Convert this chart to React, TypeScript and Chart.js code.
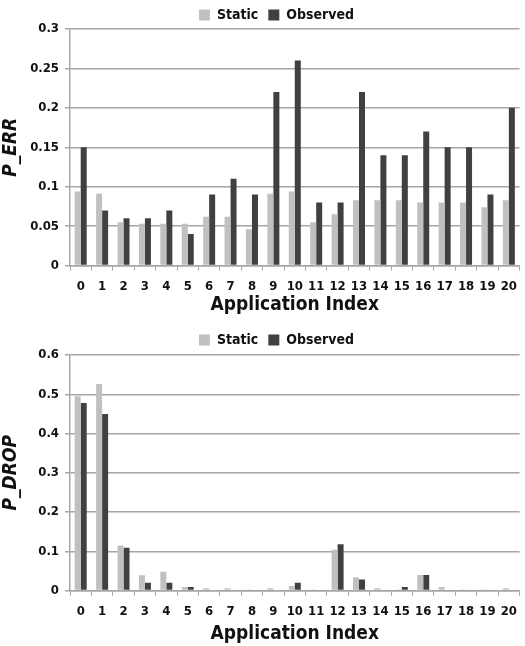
import React, { useEffect, useRef } from "react";
import { Chart, registerables } from "chart.js";

Chart.register(...registerables);

const categories = ["0","1","2","3","4","5","6","7","8","9","10","11","12","13","14","15","16","17","18","19","20"];

const errStatic = [0.094,0.091,0.055,0.053,0.053,0.053,0.062,0.062,0.046,0.091,0.094,0.055,0.065,0.083,0.083,0.083,0.08,0.08,0.08,0.074,0.083];
const errObserved = [0.15,0.07,0.06,0.06,0.07,0.04,0.09,0.11,0.09,0.22,0.26,0.08,0.08,0.22,0.14,0.14,0.17,0.15,0.15,0.09,0.2];

const dropStatic = [0.495,0.526,0.115,0.039,0.048,0.009,0.006,0.006,0.003,0.006,0.012,0.003,0.104,0.034,0.006,0.003,0.04,0.009,0.003,0.003,0.006];
const dropObserved = [0.478,0.45,0.109,0.02,0.02,0.009,0,0,0,0,0.02,0,0.118,0.028,0,0.009,0.04,0,0,0,0];

const seriesNames = ["Static", "Observed"];
const xTitle = "Application Index";

const FONT = "'DejaVu Sans Condensed', 'DejaVu Sans', sans-serif";
const W = "condensed bold";
const STATIC_COLOR = "#c0c0c0";
const OBS_COLOR = "#404040";
const GRID = "#a6a6a6";
const SHIFT = 28;

function makeConfig(a: number[], b: number[], yTitle: string, yMax: number, step: number, padTop: number, padBottom: number, legendH: number, xTitlePad: number): any {
  return {
    type: "bar",
    data: {
      labels: categories,
      datasets: [
        { label: seriesNames[0], data: a, backgroundColor: STATIC_COLOR, categoryPercentage: 0.56, barPercentage: 1 },
        { label: seriesNames[1], data: b, backgroundColor: OBS_COLOR, categoryPercentage: 0.56, barPercentage: 1 },
      ],
    },
    options: {
      responsive: false,
      animation: false,
      layout: { padding: { top: padTop, right: 0, bottom: padBottom, left: SHIFT } },
      plugins: {
        legend: {
          position: "top",
          maxHeight: legendH,
          labels: {
            boxWidth: 11,
            boxHeight: 11,
            padding: 10,
            color: "#111",
            font: { family: FONT, size: 14, weight: W },
          },
        },
        tooltip: { enabled: false },
      },
      scales: {
        x: {
          offset: true,
          grid: { display: true, drawOnChartArea: false, offset: true, color: GRID, tickLength: 5, lineWidth: 1 },
          border: { color: GRID, width: 1.5 },
          ticks: { color: "#111", font: { family: FONT, size: 13, weight: W }, padding: 8, maxRotation: 0, autoSkip: false },
          title: { display: true, text: xTitle, color: "#111", font: { family: FONT, size: 19, weight: W }, padding: { top: xTitlePad, bottom: 0 } },
        },
        y: {
          min: 0,
          max: yMax,
          afterFit: (s: any) => { s.width = 70 - SHIFT; },
          grid: { color: GRID, lineWidth: 1.5, tickLength: 5 },
          border: { color: GRID, width: 1.5 },
          ticks: {
            stepSize: step,
            color: "#111",
            font: { family: FONT, size: 13, weight: W },
            padding: 6,
            callback: (v: any) => String(Number(Number(v).toFixed(2))),
          },
          title: { display: true, text: yTitle, color: "#111", font: { family: FONT, size: 19, weight: W, style: "italic" }, padding: { top: -SHIFT, bottom: 0 } },
        },
      },
    },
  };
}

function BarChart(props: { a: number[]; b: number[]; yTitle: string; yMax: number; step: number; height: number; padTop: number; padBottom: number; legendH: number; xTitlePad: number }) {
  const ref = useRef<HTMLCanvasElement>(null);
  useEffect(() => {
    if (!ref.current) return;
    const chart = new Chart(ref.current, makeConfig(props.a, props.b, props.yTitle, props.yMax, props.step, props.padTop, props.padBottom, props.legendH, props.xTitlePad));
    return () => chart.destroy();
  }, []);
  return <canvas ref={ref} width={525} height={props.height} style={{ display: "block" }} />;
}

export default function App() {
  return (
    <div style={{ position: "absolute", left: 0, top: 0, width: 525, height: 646, background: "#fff" }}>
      <BarChart a={errStatic} b={errObserved} yTitle="P_ERR" yMax={0.3} step={0.05} height={318} padTop={-2} padBottom={2} legendH={31} xTitlePad={-9} />
      <BarChart a={dropStatic} b={dropObserved} yTitle="P_DROP" yMax={0.6} step={0.1} height={328} padTop={5} padBottom={1} legendH={32} xTitlePad={-5} />
    </div>
  );
}
